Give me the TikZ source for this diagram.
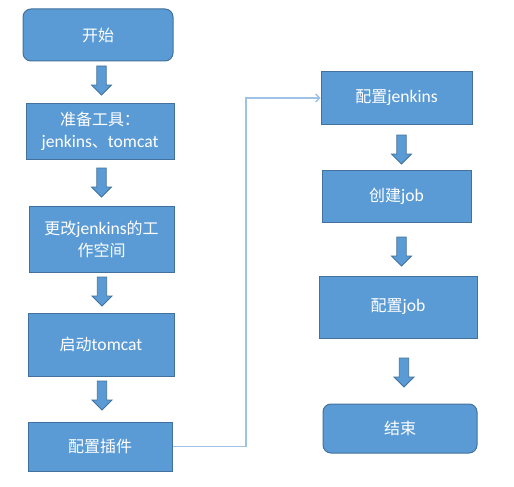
\documentclass[tikz,border=0pt]{standalone}
\usepackage{fontspec}
\setmainfont{Carlito}[Scale=1.1]
\newfontfamily\cjk{Noto Sans CJK SC}
\usetikzlibrary{arrows.meta}
\definecolor{boxfill}{HTML}{5B9BD5}
\definecolor{boxline}{HTML}{41719C}
\definecolor{linkline}{HTML}{9DC3E6}
\begin{document}
\begin{tikzpicture}[x=1pt,y=-1pt,
  box/.style={draw=boxline, fill=boxfill, line width=1pt, text=white, align=center,
    font=\fontsize{16}{22}\selectfont, inner sep=0pt},
  term/.style={box, rounded corners=8pt},
  link/.style={draw=linkline, line width=1.3pt, -{Straight Barb[length=4pt,width=8pt]}},
  barrow/.pic={\filldraw[fill=boxfill, draw=boxline, line width=0.8pt]
    (-4.7,0) -- (4.7,0) -- (4.7,19) -- (10,19) -- (0,29) -- (-10,19) -- (-4.7,19) -- cycle;}]
\useasboundingbox (0,0) rectangle (514,487);
\node[term, minimum width=150pt, minimum height=52pt] (n1) at (98,35) {{\cjk 开始}};
\node[box, minimum width=148pt, minimum height=56pt] (n2) at (100,131) {{\cjk 准备工具：}\\jenkins{\cjk 、}tomcat};
\node[box, minimum width=145pt, minimum height=66pt] (n3) at (101.5,239) {{\cjk 更改}jenkins{\cjk 的工}\\{\cjk 作空间}};
\node[box, minimum width=146pt, minimum height=63pt] (n4) at (101,344.5) {{\cjk 启动}tomcat};
\node[box, minimum width=144pt, minimum height=49pt] (n5) at (100,446.5) {{\cjk 配置插件}};
\node[box, minimum width=151pt, minimum height=52pt] (m1) at (396.5,98) {{\cjk 配置}jenkins};
\node[box, minimum width=149pt, minimum height=52pt] (m2) at (396.5,196) {{\cjk 创建}job};
\node[box, minimum width=158pt, minimum height=62pt] (m3) at (398,307) {{\cjk 配置}job};
\node[term, minimum width=154pt, minimum height=49pt] (m4) at (400,428.5) {{\cjk 结束}};
\pic at (101.5,66) {barrow};
\pic at (101.5,168) {barrow};
\pic at (102,277) {barrow};
\pic at (102,381) {barrow};
\pic at (401.5,135) {barrow};
\pic at (401.5,237) {barrow};
\pic at (404,358) {barrow};
\coordinate (bend) at (246,0);
\draw[link] (n5.east) -- (n5.east -| bend) |- (m1.west);
\end{tikzpicture}
\end{document}
